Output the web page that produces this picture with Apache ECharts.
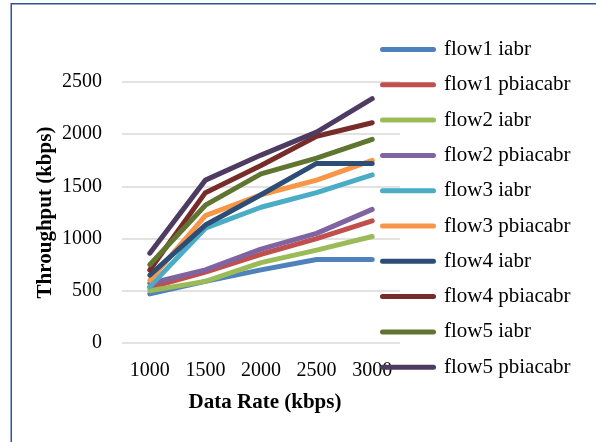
<!DOCTYPE html>
<html>
<head>
<meta charset="utf-8">
<script src="https://cdn.jsdelivr.net/npm/echarts@6/dist/echarts.min.js"></script>
<style>
html,body{margin:0;padding:0;background:#fff;}
#chart{width:596px;height:442px;}
</style>
</head>
<body>
<div id="chart"></div>
<script>
const categories = ['1000', '1500', '2000', '2500', '3000'];
const seriesNames = ['flow1 iabr', 'flow1 pbiacabr', 'flow2 iabr', 'flow2 pbiacabr', 'flow3 iabr',
  'flow3 pbiacabr', 'flow4 iabr', 'flow4 pbiacabr', 'flow5 iabr', 'flow5 pbiacabr'];
const flow1Iabr = [470, 590, 700, 800, 800];
const flow1Pbiacabr = [530, 680, 850, 1000, 1170];
const flow2Iabr = [500, 590, 770, 890, 1020];
const flow2Pbiacabr = [570, 700, 900, 1050, 1280];
const flow3Iabr = [540, 1100, 1300, 1440, 1610];
const flow3Pbiacabr = [600, 1220, 1420, 1560, 1750];
const flow4Iabr = [650, 1130, 1420, 1720, 1720];
const flow4Pbiacabr = [700, 1440, 1700, 1980, 2110];
const flow5Iabr = [750, 1320, 1620, 1770, 1950];
const flow5Pbiacabr = [860, 1560, 1800, 2020, 2340];
const yTicks = [0, 500, 1000, 1500, 2000, 2500];

const seriesData = [flow1Iabr, flow1Pbiacabr, flow2Iabr, flow2Pbiacabr, flow3Iabr,
  flow3Pbiacabr, flow4Iabr, flow4Pbiacabr, flow5Iabr, flow5Pbiacabr];
const colors = ['#4F81BD', '#C0504D', '#9BBB59', '#8064A2', '#4BACC6',
  '#F79646', '#2C4D75', '#772C2A', '#5F7530', '#4D3B62'];

const font = '"Liberation Serif", "Times New Roman", serif';
const chart = echarts.init(document.getElementById('chart'), null, {renderer: 'canvas'});
chart.setOption({
  animation: false,
  color: colors,
  textStyle: {fontFamily: font},
  grid: {left: 122, right: 196, top: 82, bottom: 99, containLabel: false},
  xAxis: {
    type: 'category',
    data: categories,
    boundaryGap: true,
    axisLine: {show: false},
    axisTick: {show: false},
    axisLabel: {color: '#000', fontSize: 20, fontFamily: font, margin: 18},
    name: 'Data Rate (kbps)',
    nameLocation: 'middle',
    nameGap: 49,
    nameTextStyle: {color: '#000', fontSize: 21, fontWeight: 'bold', fontFamily: font, padding: [0, 0, 0, 8]}
  },
  yAxis: {
    type: 'value',
    min: yTicks[0],
    max: yTicks[yTicks.length - 1],
    interval: 500,
    axisLine: {show: false},
    axisTick: {show: false},
    axisLabel: {color: '#000', fontSize: 20, fontFamily: font, margin: 20, formatter: v => String(v)},
    splitLine: {lineStyle: {color: '#d9d9d9', width: 1.5}},
    name: 'Throughput (kbps)',
    nameLocation: 'middle',
    nameRotate: 90,
    nameGap: 66,
    nameTextStyle: {color: '#000', fontSize: 21, fontWeight: 'bold', fontFamily: font}
  },
  legend: {
    orient: 'vertical',
    left: 380,
    top: 39,
    padding: 0,
    itemWidth: 56,
    itemHeight: 5,
    itemGap: 14.3,
    icon: 'path://M2.5,0 L53.5,0 A2.5,2.5 0 0 1 53.5,5 L2.5,5 A2.5,2.5 0 0 1 2.5,0 Z',
    data: seriesNames,
    textStyle: {color: '#000', fontSize: 21, fontFamily: font, lineHeight: 21, padding: [0, 0, 0, 3]}
  },
  graphic: [
    {type: 'line', shape: {x1: 11, y1: 3.75, x2: 596, y2: 3.75}, style: {stroke: '#2F5597', lineWidth: 1.5}, z: 100},
    {type: 'line', shape: {x1: 11.25, y1: 3, x2: 11.25, y2: 442}, style: {stroke: '#2F5597', lineWidth: 1.5}, z: 100}
  ],
  series: seriesNames.map((name, i) => ({
    name: name,
    type: 'line',
    data: seriesData[i],
    symbol: 'none',
    lineStyle: {width: 5, cap: 'round', join: 'round'},
    z: 2 + i
  }))
});
</script>
</body>
</html>
